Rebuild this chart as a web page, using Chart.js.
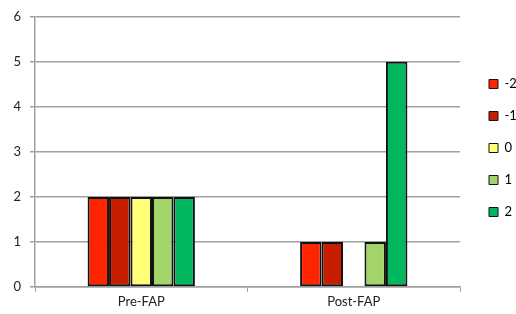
<!DOCTYPE html>
<html>
<head>
<meta charset="utf-8">
<script src="https://cdn.jsdelivr.net/npm/chart.js@4/dist/chart.umd.min.js"></script>
<style>
html,body{margin:0;padding:0;background:#fff;}
#wrap{position:relative;width:516px;height:314px;}
</style>
</head>
<body>
<div id="wrap"><canvas id="c" width="516" height="314"></canvas></div>
<script>
const categories = ["Pre-FAP", "Post-FAP"];
const seriesNames = ["-2", "-1", "0", "1", "2"];
const valuesM2 = [2, 1];
const valuesM1 = [2, 1];
const values0 = [2, 0];
const values1 = [2, 1];
const values2 = [2, 5];
const yTicks = [0, 1, 2, 3, 4, 5, 6];
const colors = ["#FF2500", "#C81E00", "#FFFF77", "#A3D469", "#00B65F"];

const allValues = [valuesM2, valuesM1, values0, values1, values2];
const datasets = seriesNames.map((n, i) => ({
  label: n,
  data: allValues[i],
  backgroundColor: colors[i],
  borderColor: "#111",
  borderWidth: ctx => (ctx.raw === 0 ? 0 : 2),
  borderSkipped: false,
  categoryPercentage: 0.505,
  barPercentage: 1.0
}));

Chart.defaults.font.family = "Lato, 'Open Sans', sans-serif";
Chart.defaults.font.size = 13;
Chart.defaults.color = "#222";

const legendFix = {
  id: "legendFix",
  beforeLayout(chart) {
    const lg = chart.legend;
    if (lg && !lg._wrapped) {
      const orig = lg.fit.bind(lg);
      lg.fit = function () { orig(); this.width = 56; };
      lg._wrapped = true;
    }
  },
  afterLayout(chart) {
    const lg = chart.legend;
    if (lg) {
      lg.left += 10; lg.right += 10;
      lg.top -= 14; lg.bottom -= 14;
    }
  }
};

new Chart(document.getElementById("c"), {
  type: "bar",
  data: { labels: categories, datasets },
  plugins: [legendFix],
  options: {
    responsive: false,
    animation: false,
    layout: { padding: { left: 0, right: 0, top: 10, bottom: 0 } },
    scales: {
      x: {
        afterFit: a => { a.height = 27; },
        grid: { display: true, drawOnChartArea: false, color: "#A0A0A0", tickLength: 5, lineWidth: 1 },
        border: { display: true, color: "#A0A0A0", width: 1.5 },
        ticks: { padding: 2, color: "#222" }
      },
      y: {
        min: 0, max: 6,
        afterFit: a => { a.width = 35; },
        afterBuildTicks: axis => { axis.ticks = yTicks.map(v => ({ value: v })); },
        grid: { color: "#A0A0A0", tickLength: 5, lineWidth: 1.5 },
        border: { display: true, color: "#A0A0A0", width: 1.5 },
        ticks: { padding: 9, color: "#222" }
      }
    },
    plugins: {
      legend: {
        position: "right",
        labels: {
          boxWidth: 9, boxHeight: 9, padding: 19,
          color: "#222",
          generateLabels: chart => chart.data.datasets.map((d, i) => ({
            text: d.label, fillStyle: d.backgroundColor, strokeStyle: "#111",
            lineWidth: 1, datasetIndex: i, hidden: false
          }))
        }
      },
      tooltip: { enabled: false }
    }
  }
});
</script>
</body>
</html>
